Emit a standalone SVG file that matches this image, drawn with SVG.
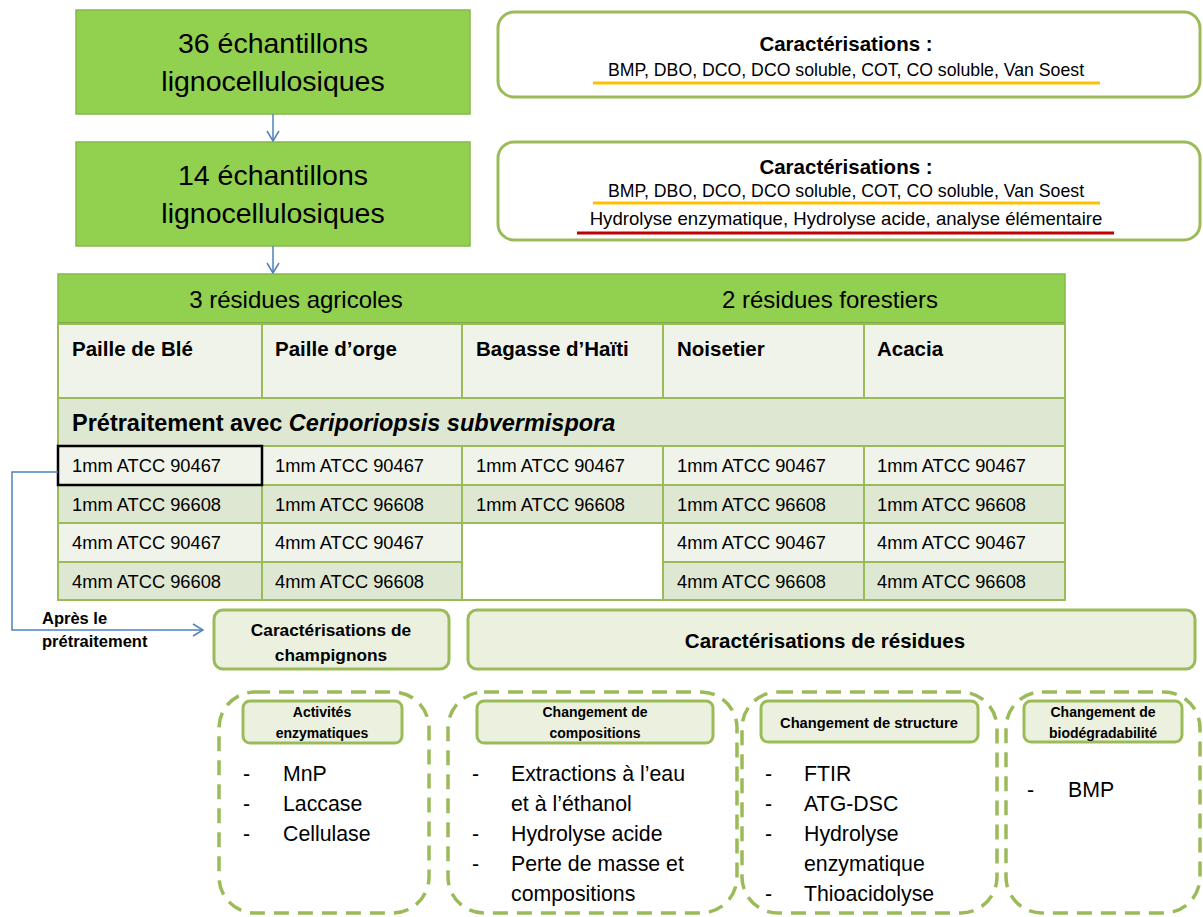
<svg xmlns="http://www.w3.org/2000/svg" width="1203" height="917" viewBox="0 0 1203 917">
<defs>
<marker id="ah" viewBox="0 0 12 14" refX="11" refY="7" markerWidth="12" markerHeight="14" markerUnits="userSpaceOnUse" orient="auto">
<path d="M1,1 L11,7 L1,13" fill="none" stroke="#4F81BD" stroke-width="1.5"/>
</marker>
</defs>
<style>
text{font-family:"Liberation Sans",Arial,sans-serif;fill:#000}
.big{font-size:28.5px;text-anchor:middle}
.b{font-weight:bold}
.mid{text-anchor:middle}
.green{fill:#92D050;stroke:#86B84A;stroke-width:1.5}
.card{fill:#fff;stroke:#9BBB59;stroke-width:3}
.light{fill:#EFF3EA;stroke:#9BBB59;stroke-width:2}
.dark{fill:#DEE7D1;stroke:#9BBB59;stroke-width:2}
.pill{fill:#EBF1DE;stroke:#9BBB59;stroke-width:3}
.dash{fill:none;stroke:#9BBB59;stroke-width:3.5;stroke-dasharray:15 9}
.cell{font-size:18.3px}
.lab{font-size:20.5px;font-weight:bold}
.li{font-size:21.3px}
.conn{fill:none;stroke:#4F81BD;stroke-width:1.5}
</style>

<g id="n36">
<rect class="green" x="76" y="10" width="394" height="104"/>
<text class="big" x="273" y="53">36 échantillons</text>
<text class="big" x="273" y="91">lignocellulosiques</text>
</g>
<g id="n14">
<rect class="green" x="76" y="142" width="394" height="104"/>
<text class="big" x="273" y="185">14 échantillons</text>
<text class="big" x="273" y="223">lignocellulosiques</text>
</g>

<g id="carA">
<rect class="card" x="498" y="12" width="702" height="85" rx="16"/>
<text class="b mid" x="846" y="51" font-size="20.5">Caractérisations :</text>
<text class="mid" x="846" y="76" font-size="17.7">BMP, DBO, DCO, DCO soluble, COT, CO soluble, Van Soest</text>
<line x1="593" y1="83" x2="1100" y2="83" stroke="#FFC000" stroke-width="3"/>
</g>
<g id="carB">
<rect class="card" x="498" y="142" width="702" height="98" rx="16"/>
<text class="b mid" x="846" y="174" font-size="20.5">Caractérisations :</text>
<text class="mid" x="846" y="197" font-size="17.7">BMP, DBO, DCO, DCO soluble, COT, CO soluble, Van Soest</text>
<line x1="593" y1="203" x2="1100" y2="203" stroke="#FFC000" stroke-width="3"/>
<text class="mid" x="846" y="225" font-size="18.6">Hydrolyse enzymatique, Hydrolyse acide, analyse élémentaire</text>
<line x1="577" y1="233" x2="1114" y2="233" stroke="#C00000" stroke-width="3"/>
</g>

<g id="table">
<rect class="green" x="58" y="274" width="1007" height="49"/>
<line x1="58" y1="323" x2="1065" y2="323" stroke="#7DA845" stroke-width="2"/>
<text x="296" y="308" font-size="24" text-anchor="middle">3 résidues agricoles</text>
<text x="830" y="308" font-size="24" text-anchor="middle">2 résidues forestiers</text>

<rect class="light" x="58" y="324" width="204" height="74"/>
<rect class="light" x="262" y="324" width="200" height="74"/>
<rect class="light" x="462" y="324" width="201" height="74"/>
<rect class="light" x="663" y="324" width="201" height="74"/>
<rect class="light" x="864" y="324" width="201" height="74"/>
<text class="lab" x="72" y="356">Paille de Blé</text>
<text class="lab" x="275" y="356">Paille d’orge</text>
<text class="lab" x="476" y="356">Bagasse d’Haïti</text>
<text class="lab" x="677" y="356">Noisetier</text>
<text class="lab" x="877" y="356">Acacia</text>

<rect class="dark" x="58" y="398" width="1007" height="48"/>
<text x="72" y="431" font-size="23.5" font-weight="bold">Prétraitement avec <tspan font-style="italic">Ceriporiopsis subvermispora</tspan></text>

<rect class="light" x="58" y="446" width="204" height="39"/>
<rect class="light" x="262" y="446" width="200" height="39"/>
<rect class="light" x="462" y="446" width="201" height="39"/>
<rect class="light" x="663" y="446" width="201" height="39"/>
<rect class="light" x="864" y="446" width="201" height="39"/>

<rect class="dark" x="58" y="485" width="204" height="38"/>
<rect class="dark" x="262" y="485" width="200" height="38"/>
<rect class="dark" x="462" y="485" width="201" height="38"/>
<rect class="dark" x="663" y="485" width="201" height="38"/>
<rect class="dark" x="864" y="485" width="201" height="38"/>

<rect class="light" x="58" y="523" width="204" height="39"/>
<rect class="light" x="262" y="523" width="200" height="39"/>
<rect x="462" y="523" width="201" height="77" fill="#fff" stroke="#9BBB59" stroke-width="2"/>
<rect class="light" x="663" y="523" width="201" height="39"/>
<rect class="light" x="864" y="523" width="201" height="39"/>

<rect class="dark" x="58" y="562" width="204" height="38"/>
<rect class="dark" x="262" y="562" width="200" height="38"/>
<rect class="dark" x="663" y="562" width="201" height="38"/>
<rect class="dark" x="864" y="562" width="201" height="38"/>

<rect x="58" y="446" width="204" height="39" fill="none" stroke="#000" stroke-width="2.5"/>

<text class="cell" x="72" y="472">1mm ATCC 90467</text>
<text class="cell" x="275" y="472">1mm ATCC 90467</text>
<text class="cell" x="476" y="472">1mm ATCC 90467</text>
<text class="cell" x="677" y="472">1mm ATCC 90467</text>
<text class="cell" x="877" y="472">1mm ATCC 90467</text>
<text class="cell" x="72" y="511">1mm ATCC 96608</text>
<text class="cell" x="275" y="511">1mm ATCC 96608</text>
<text class="cell" x="476" y="511">1mm ATCC 96608</text>
<text class="cell" x="677" y="511">1mm ATCC 96608</text>
<text class="cell" x="877" y="511">1mm ATCC 96608</text>
<text class="cell" x="72" y="549">4mm ATCC 90467</text>
<text class="cell" x="275" y="549">4mm ATCC 90467</text>
<text class="cell" x="677" y="549">4mm ATCC 90467</text>
<text class="cell" x="877" y="549">4mm ATCC 90467</text>
<text class="cell" x="72" y="588">4mm ATCC 96608</text>
<text class="cell" x="275" y="588">4mm ATCC 96608</text>
<text class="cell" x="677" y="588">4mm ATCC 96608</text>
<text class="cell" x="877" y="588">4mm ATCC 96608</text>
</g>

<g id="label-apres">
<text x="42" y="624" font-size="16.5" font-weight="bold">Après le</text>
<text x="42" y="647" font-size="16.5" font-weight="bold">prétraitement</text>
</g>

<g id="champ">
<rect class="pill" x="214" y="610" width="235" height="59" rx="9"/>
<text class="b mid" x="331" y="636" font-size="17.3">Caractérisations de</text>
<text class="b mid" x="331" y="661" font-size="17.3">champignons</text>
</g>
<g id="resid">
<rect class="pill" x="468" y="610" width="727" height="59" rx="9"/>
<text class="b mid" x="825" y="648" font-size="20.5">Caractérisations de résidues</text>
</g>

<g id="enz">
<rect class="dash" x="219" y="692" width="210" height="221" rx="36"/>
<rect class="pill" x="243" y="701" width="159" height="42" rx="7"/>
<text class="b mid" x="322" y="717" font-size="14">Activités</text>
<text class="b mid" x="322" y="738" font-size="14">enzymatiques</text>
<text class="li" x="243" y="781">-</text><text class="li" x="283" y="781">MnP</text>
<text class="li" x="243" y="811">-</text><text class="li" x="283" y="811">Laccase</text>
<text class="li" x="243" y="841">-</text><text class="li" x="283" y="841">Cellulase</text>
</g>
<g id="compo">
<rect class="dash" x="448" y="692" width="289" height="221" rx="36"/>
<rect class="pill" x="477" y="701" width="236" height="42" rx="7"/>
<text class="b mid" x="595" y="717" font-size="14">Changement de</text>
<text class="b mid" x="595" y="738" font-size="14">compositions</text>
<text class="li" x="472" y="781">-</text><text class="li" x="511" y="781">Extractions à l’eau</text>
<text class="li" x="511" y="811">et à l’éthanol</text>
<text class="li" x="472" y="841">-</text><text class="li" x="511" y="841">Hydrolyse acide</text>
<text class="li" x="472" y="871">-</text><text class="li" x="511" y="871">Perte de masse et</text>
<text class="li" x="511" y="901">compositions</text>
</g>
<g id="struct">
<rect class="dash" x="742" y="692" width="255" height="221" rx="36"/>
<rect class="pill" x="761" y="701" width="217" height="41" rx="7"/>
<text class="b mid" x="869" y="728" font-size="14.7">Changement de structure</text>
<text class="li" x="765" y="781">-</text><text class="li" x="804" y="781">FTIR</text>
<text class="li" x="765" y="811">-</text><text class="li" x="804" y="811">ATG-DSC</text>
<text class="li" x="765" y="841">-</text><text class="li" x="804" y="841">Hydrolyse</text>
<text class="li" x="804" y="871">enzymatique</text>
<text class="li" x="765" y="901">-</text><text class="li" x="804" y="901">Thioacidolyse</text>
</g>
<g id="biodeg">
<rect class="dash" x="1006" y="692" width="194" height="221" rx="36"/>
<rect class="pill" x="1024" y="701" width="158" height="41" rx="7"/>
<text class="b mid" x="1103" y="717" font-size="14">Changement de</text>
<text class="b mid" x="1103" y="738" font-size="14">biodégradabilité</text>
<text class="li" x="1027" y="797">-</text><text class="li" x="1068" y="797">BMP</text>
</g>

<g id="connectors">
<line class="conn" x1="273" y1="114" x2="273" y2="141" marker-end="url(#ah)"/>
<line class="conn" x1="273" y1="246" x2="273" y2="273" marker-end="url(#ah)"/>
<polyline class="conn" points="58,472 12,472 12,630 203,630" marker-end="url(#ah)"/>
</g>
</svg>
